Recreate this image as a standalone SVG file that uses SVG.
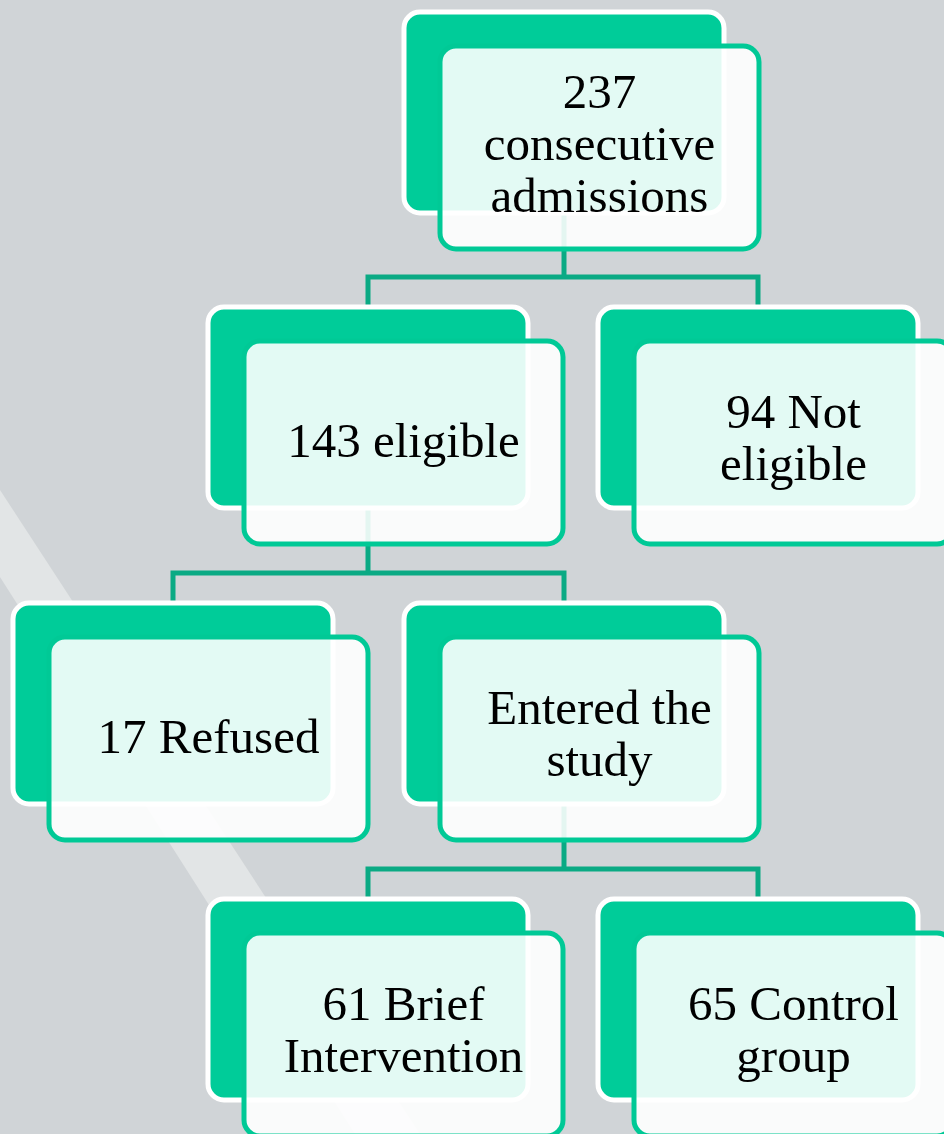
<svg xmlns="http://www.w3.org/2000/svg" width="944" height="1134" viewBox="0 0 944 1134">
<style>
.back{fill:#00cc99;stroke:#ffffff;stroke-width:5}
.front{fill:#ffffff;fill-opacity:0.89;stroke:#00c996;stroke-width:5}
.conn{fill:none;stroke:#0aaa84;stroke-width:5}
text{font-family:"Liberation Serif","Times New Roman",serif;font-size:49px;fill:#000000;text-anchor:middle}
</style>
<rect x="0" y="0" width="944" height="1134" fill="#d0d4d7"/>
<polygon points="0,490 420,1134 355,1134 0,577" fill="#e2e5e6"/>
<g id="connectors">
<path class="conn" d="M564,211 V277"/>
<path class="conn" d="M368,309 V277 H758 V309"/>
<path class="conn" d="M368,507 V573"/>
<path class="conn" d="M173,605 V573 H564 V605"/>
<path class="conn" d="M564,802 V869"/>
<path class="conn" d="M368,901 V869 H758 V901"/>
</g>
<g id="n1">
<rect class="back" x="404" y="12" width="320" height="201" rx="16"/>
<rect class="front" x="440" y="46" width="319" height="203" rx="16"/>
<text x="599.5" y="107.5">237</text>
<text x="599.5" y="159.5">consecutive</text>
<text x="599.5" y="211.5">admissions</text>
</g>
<g id="n2">
<rect class="back" x="208" y="307" width="320" height="201" rx="16"/>
<rect class="front" x="244" y="341" width="319" height="203" rx="16"/>
<text x="403.5" y="456.5">143 eligible</text>
</g>
<g id="n3">
<rect class="back" x="598" y="307" width="320" height="201" rx="16"/>
<rect class="front" x="634" y="341" width="319" height="203" rx="16"/>
<text x="793.5" y="427.5">94 Not</text>
<text x="793.5" y="479.5">eligible</text>
</g>
<g id="n4">
<rect class="back" x="13" y="603" width="320" height="201" rx="16"/>
<rect class="front" x="49" y="637" width="319" height="203" rx="16"/>
<text x="208.5" y="752.5">17 Refused</text>
</g>
<g id="n5">
<rect class="back" x="404" y="603" width="320" height="201" rx="16"/>
<rect class="front" x="440" y="637" width="319" height="203" rx="16"/>
<text x="599.5" y="723.5">Entered the</text>
<text x="599.5" y="775.5">study</text>
</g>
<g id="n6">
<rect class="back" x="208" y="899" width="320" height="201" rx="16"/>
<rect class="front" x="244" y="933" width="319" height="203" rx="16"/>
<text x="403.5" y="1019.5">61 Brief</text>
<text x="403.5" y="1071.5">Intervention</text>
</g>
<g id="n7">
<rect class="back" x="598" y="899" width="320" height="201" rx="16"/>
<rect class="front" x="634" y="933" width="319" height="203" rx="16"/>
<text x="793.5" y="1019.5">65 Control</text>
<text x="793.5" y="1071.5">group</text>
</g>
</svg>
